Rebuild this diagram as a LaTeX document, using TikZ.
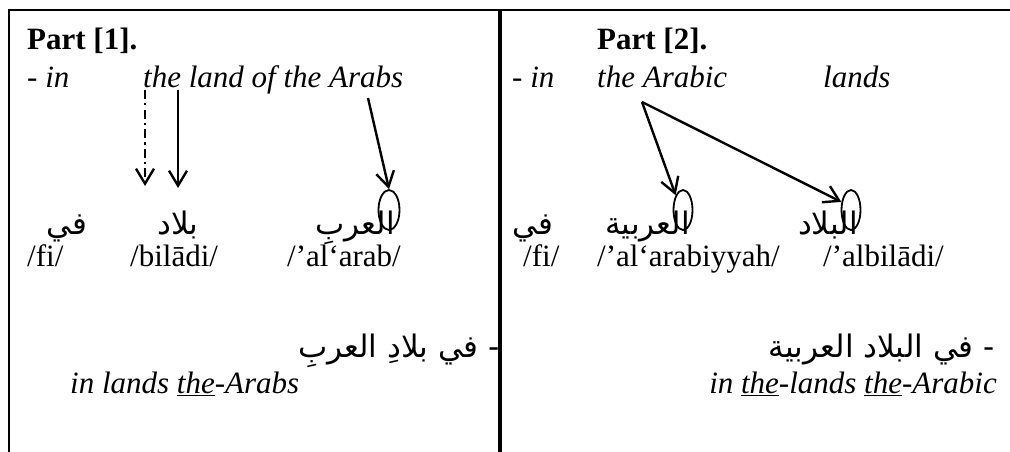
\documentclass[tikz,border=0pt]{standalone}
\usepackage{fontspec}
\setmainfont{Liberation Serif}
\newfontfamily\arabicfont[Script=Arabic]{DejaVu Sans}
\TeXXeTstate=1
\usetikzlibrary{arrows.meta,shapes.geometric}

\tikzset{
  eng/.style={anchor=base west,inner sep=0pt,font=\fontsize{31}{36}\selectfont},
  arab/.style={anchor=base,inner sep=0pt,font=\fontsize{31}{36}\arabicfont},
  ring/.style={draw,ellipse,line width=1.8pt,minimum width=21pt,minimum height=40pt,inner sep=0pt},
  arr/.style={-{Straight Barb[length=15pt,width=18pt]},line width=2.4pt},
  dasharr/.style={arr,dash pattern=on 9pt off 4pt on 2.5pt off 4pt},
}

\begin{document}
\begin{tikzpicture}[x=1pt,y=-1pt]
\useasboundingbox (0,0) rectangle (1010,452);
% frame
\draw[line width=2pt] (9,452) -- (9,10) -- (1010,10);
\draw[line width=3.5pt] (500,10) -- (500,452);

% part 1
\node[eng] (p1) at (27,50) {\textbf{Part [1].}};
\node[eng] (en1a) at (27,88) {- \textit{in}};
\node[eng] (en1b) at (143,88) {\textit{the land of the Arabs}};

\node[arab] (ar1a) at (67,234) {\beginR في\endR};
\node[arab] (ar1b) at (178,234) {\beginR بلاد\endR};
\node[arab,anchor=base east] (ar1c) at (395,234) {\beginR العربِ\endR};
\node[ring] (c1) at (389,210) {};

\node[eng] (tr1a) at (27,266) {/fi/};
\node[eng] (tr1b) at (130,266) {/bilādi/};
\node[eng] (tr1c) at (287,266) {/’al‘arab/};

\coordinate (s1) at (145,90);
\coordinate (s2) at (178,90);
\coordinate (s3) at (368,98);
\coordinate (t1) at (145,186);
\coordinate (t2) at (178,188);
\draw[dasharr] (s1) -- (t1);
\draw[arr] (s2) -- (t2);
\draw[arr] (s3) -- (c1.north);

\node[arab,anchor=base east] (ph1) at (500,357) {\beginR - في بلادِ العربِ\endR};
\node[eng] (gl1) at (70,393) {\textit{in lands \underline{the}-Arabs}};

% part 2
\node[eng] (p2) at (597,50) {\textbf{Part [2].}};
\node[eng] (en2a) at (512,88) {- \textit{in}};
\node[eng] (en2b) at (597,88) {\textit{the Arabic}};
\node[eng] (en2c) at (823,88) {\textit{lands}};

\node[arab] (ar2a) at (533,234) {\beginR في\endR};
\node[arab,anchor=base east] (ar2b) at (690,234) {\beginR العربية\endR};
\node[arab,anchor=base east] (ar2c) at (858,234) {\beginR البلاد\endR};
\node[ring,minimum width=19pt] (c2) at (683,210) {};
\node[ring,minimum width=19pt] (c3) at (851,210) {};

\node[eng] (tr2a) at (523,266) {/fi/};
\node[eng] (tr2b) at (597,266) {/’al‘arabiyyah/};
\node[eng] (tr2c) at (823,266) {/’albilādi/};

\coordinate (s4) at (642,102);
\draw[arr] (s4) -- (c2.north west);
\draw[arr] (s4) -- (c3.140);

\node[arab,anchor=base east] (ph2) at (995,357) {\beginR - في البلاد العربية\endR};
\node[eng,anchor=base east] (gl2) at (997,393) {\textit{in \underline{the}-lands \underline{the}-Arabic}};
\end{tikzpicture}
\end{document}
